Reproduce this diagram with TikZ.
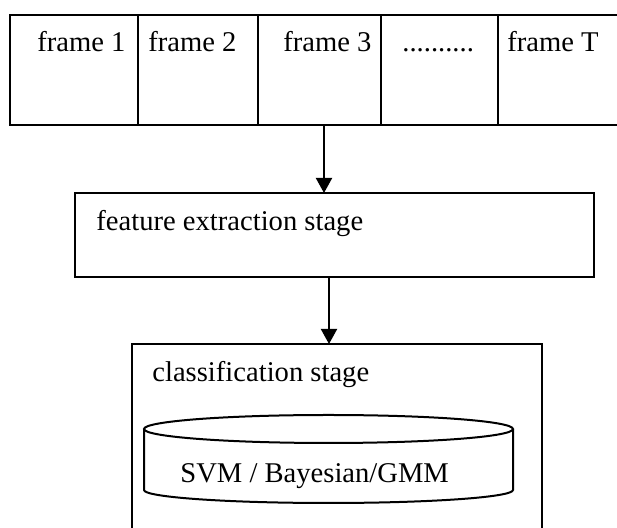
\documentclass[tikz,border=0pt]{standalone}
\usepackage{fontspec}
\setmainfont{Liberation Serif}
\usepackage{tikz}
\usetikzlibrary{arrows.meta}
\usetikzlibrary{positioning}

\tikzset{
  cell/.style={draw=black,line width=1pt,minimum height=55.25pt,inner sep=0pt,outer sep=0pt,anchor=north west},
  stagebox/.style={draw=black,line width=1pt,inner sep=0pt,outer sep=0pt,anchor=north west},
  lbl/.style={inner sep=0pt,anchor=base west,font=\fontsize{14.3}{17}\selectfont}
}

\begin{document}
\begin{tikzpicture}[line join=miter,>={Triangle[length=7.5pt,width=8pt]},x=0.5pt,y=-0.5pt]
      \useasboundingbox (0,0) rectangle (617,528);
      % frames
      \node[cell,minimum width=64pt] (f1) at (10,15) {};
      \node[cell,minimum width=60pt] (f2) at (f1.north east) {};
      \node[cell,minimum width=61.5pt] (f3) at (f2.north east) {};
      \node[cell,minimum width=58.5pt] (f4) at (f3.north east) {};
      \node[cell,minimum width=63.5pt] (f5) at (f4.north east) {};
      \node[lbl] (t1) at (37,52) {frame 1};
      \node[lbl] (t2) at (148,52) {frame 2};
      \node[lbl] (t3) at (283,52) {frame 3};
      \node[lbl] (t4) at (402,52) {..........};
      \node[lbl] (t5) at (507,52) {frame T};
      % stages
      \node[stagebox,minimum width=259.5pt,minimum height=42pt] (fe) at (75,193) {};
      \node[lbl] (fetext) at (96,231) {feature extraction stage};
      \node[stagebox,minimum width=205pt,minimum height=110pt] (cl) at (132,344) {};
      \node[lbl] (cltext) at (152,382) {classification stage};
      % model store
      \draw[line width=1pt] (328.5,429) ellipse [x radius=184.5,y radius=14];
      \draw[line width=1pt] (144,429) -- (144,490) arc[start angle=180,end angle=0,x radius=184.5,y radius=13] -- (513,429);
      \node[lbl] (model) at (180,483) {SVM / Bayesian/GMM};
      % arrows
      \coordinate (o1) at (324,125.6);
      \coordinate (o2) at (329,277);
      \draw[->,line width=1pt] (o1) -- (o1 |- fe.north);
      \draw[->,line width=1pt] (o2) -- (o2 |- cl.north);
\end{tikzpicture}
\end{document}
